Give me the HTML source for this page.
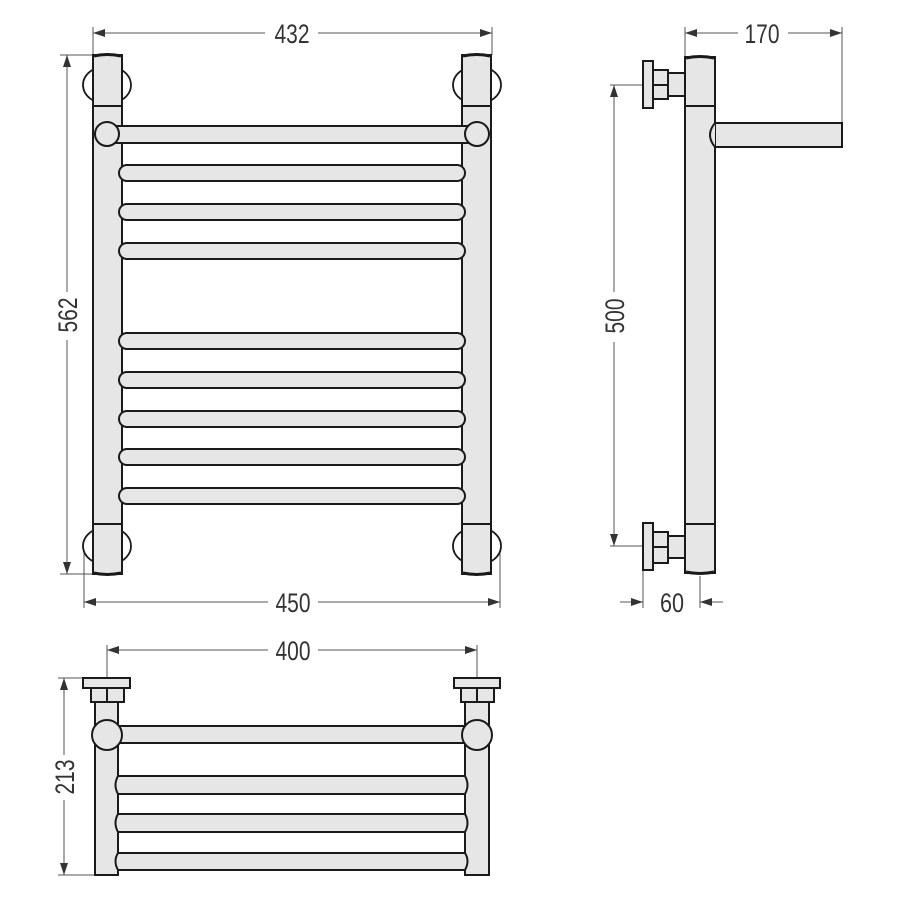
<!DOCTYPE html>
<html><head><meta charset="utf-8"><style>
html,body{margin:0;padding:0;background:#fff;}
svg{display:block;}
text{font-family:"Liberation Sans Narrow","Liberation Sans",sans-serif;font-size:27px;fill:#333;}
</style></head><body>
<svg width="900" height="900" viewBox="0 0 900 900" xmlns="http://www.w3.org/2000/svg">
<defs>
<marker id="a" viewBox="0 0 12 8" refX="12" refY="4" markerWidth="12" markerHeight="8" orient="auto-start-reverse" markerUnits="userSpaceOnUse">
<path d="M0,0 L12,4 L0,8 z" fill="#333"/></marker>
</defs>
<g stroke="#555" stroke-width="1" fill="none">
<line x1="93" y1="27" x2="93" y2="55"/><line x1="492" y1="27" x2="492" y2="55"/>
<line x1="93" y1="33" x2="265" y2="33" marker-start="url(#a)"/>
<line x1="318" y1="33" x2="492" y2="33" marker-end="url(#a)"/>
<line x1="60" y1="55" x2="93" y2="55"/><line x1="60" y1="574" x2="100" y2="574"/>
<line x1="67" y1="55" x2="67" y2="292" marker-start="url(#a)"/>
<line x1="67" y1="340" x2="67" y2="574" marker-end="url(#a)"/>
<line x1="84" y1="550" x2="84" y2="608"/><line x1="500" y1="550" x2="500" y2="608"/>
<line x1="84" y1="602" x2="268" y2="602" marker-start="url(#a)"/>
<line x1="318" y1="602" x2="500" y2="602" marker-end="url(#a)"/>
<line x1="685" y1="27" x2="685" y2="57"/><line x1="842" y1="27" x2="842" y2="123"/>
<line x1="685" y1="33" x2="738" y2="33" marker-start="url(#a)"/>
<line x1="788" y1="33" x2="842" y2="33" marker-end="url(#a)"/>
<line x1="610" y1="85" x2="643" y2="85"/><line x1="610" y1="546" x2="643" y2="546"/>
<line x1="614" y1="85" x2="614" y2="292" marker-start="url(#a)"/>
<line x1="614" y1="342" x2="614" y2="546" marker-end="url(#a)"/>
<line x1="643" y1="570" x2="643" y2="608"/><line x1="700" y1="576" x2="700" y2="608"/>
<line x1="620" y1="602" x2="643" y2="602" marker-end="url(#a)"/>
<line x1="723" y1="602" x2="700" y2="602" marker-end="url(#a)"/>
<line x1="107" y1="645" x2="107" y2="678"/><line x1="477" y1="645" x2="477" y2="678"/>
<line x1="107" y1="650" x2="268" y2="650" marker-start="url(#a)"/>
<line x1="318" y1="650" x2="477" y2="650" marker-end="url(#a)"/>
<line x1="58" y1="678" x2="83" y2="678"/><line x1="58" y1="875" x2="95" y2="875"/>
<line x1="64" y1="678" x2="64" y2="755" marker-start="url(#a)"/>
<line x1="64" y1="800" x2="64" y2="875" marker-end="url(#a)"/>
</g>
<text x="292" y="43" text-anchor="middle" textLength="35" lengthAdjust="spacingAndGlyphs">432</text>
<text x="293" y="612" text-anchor="middle" textLength="35" lengthAdjust="spacingAndGlyphs">450</text>
<text x="762" y="43" text-anchor="middle" textLength="35" lengthAdjust="spacingAndGlyphs">170</text>
<text x="672" y="612" text-anchor="middle" textLength="24" lengthAdjust="spacingAndGlyphs">60</text>
<text x="293" y="660" text-anchor="middle" textLength="35" lengthAdjust="spacingAndGlyphs">400</text>
<text transform="translate(77,315) rotate(-90)" text-anchor="middle" textLength="35" lengthAdjust="spacingAndGlyphs">562</text>
<text transform="translate(624,316) rotate(-90)" text-anchor="middle" textLength="35" lengthAdjust="spacingAndGlyphs">500</text>
<text transform="translate(74,777) rotate(-90)" text-anchor="middle" textLength="35" lengthAdjust="spacingAndGlyphs">213</text>

<g stroke="#1a1a1a" stroke-width="2" fill="#e6e6e6">
<g fill="#ffffff" stroke-width="1.8">
<ellipse cx="107" cy="85" rx="24" ry="19"/><ellipse cx="477" cy="85" rx="24" ry="19"/>
<ellipse cx="107" cy="546" rx="24" ry="19"/><ellipse cx="477" cy="546" rx="24" ry="19"/>
</g>
<rect x="93" y="55" width="29" height="519"/>
<rect x="462" y="55" width="29" height="519"/>
<line x1="93" y1="106" x2="122" y2="106"/><line x1="462" y1="106" x2="491" y2="106"/>
<line x1="93" y1="524" x2="122" y2="524"/><line x1="462" y1="524" x2="491" y2="524"/>
<path d="M94,56 Q107,53 121,56" stroke-width="3"/><path d="M463,56 Q477,53 490,56" stroke-width="3"/>
<path d="M94,573 Q107,576 121,573" stroke-width="3"/><path d="M463,573 Q477,576 490,573" stroke-width="3"/>
<rect x="107" y="126" width="370" height="17"/>
<circle cx="107" cy="134" r="12"/><circle cx="477" cy="134" r="12"/>
<rect x="119" y="165" width="346" height="16" rx="8"/>
<rect x="119" y="204" width="346" height="16" rx="8"/>
<rect x="119" y="243" width="346" height="16" rx="8"/>
<rect x="119" y="333" width="346" height="16" rx="8"/>
<rect x="119" y="372" width="346" height="16" rx="8"/>
<rect x="119" y="411" width="346" height="16" rx="8"/>
<rect x="119" y="449" width="346" height="16" rx="8"/>
<rect x="119" y="488" width="346" height="16" rx="8"/>

<rect x="643" y="61" width="10" height="47"/>
<rect x="653" y="70" width="15" height="29"/><line x1="653" y1="85" x2="668" y2="85"/>
<path d="M668,73 L687,73 Q691,85 687,96 L668,96 z"/>
<rect x="643" y="523" width="10" height="47"/>
<rect x="653" y="532" width="15" height="31"/><line x1="653" y1="547" x2="668" y2="547"/>
<path d="M668,536 L687,536 Q691,547 687,558 L668,558 z"/>
<rect x="709" y="123" width="133" height="24"/>
<rect x="685" y="57" width="30" height="516"/>
<path d="M715,123 Q705,135 715,147" />
<line x1="685" y1="106" x2="715" y2="106"/><line x1="685" y1="524" x2="715" y2="524"/>
<path d="M686,58 Q700,55 714,58" stroke-width="3"/><path d="M686,572 Q700,575 714,572" stroke-width="3"/>

<rect x="95" y="702" width="23" height="173"/>
<rect x="465" y="702" width="24" height="173"/>
<rect x="83" y="678" width="47" height="10"/>
<rect x="454" y="678" width="46" height="10"/>
<rect x="91" y="688" width="33" height="14"/><line x1="107" y1="688" x2="107" y2="702"/>
<rect x="461" y="688" width="33" height="14"/><line x1="477" y1="688" x2="477" y2="702"/>
<rect x="107" y="726" width="370" height="17"/>
<circle cx="107" cy="735" r="15"/><circle cx="477" cy="735" r="15"/>
<path d="M118,776 L465,776 Q470,785 465,794 L118,794 Q113,785 118,776 z"/>
<path d="M118,814 L465,814 Q470,823 465,832 L118,832 Q113,823 118,814 z"/>
<path d="M118,853 L465,853 Q470,861 465,870 L118,870 Q113,861 118,853 z"/>
</g>
</svg>
</body></html>
